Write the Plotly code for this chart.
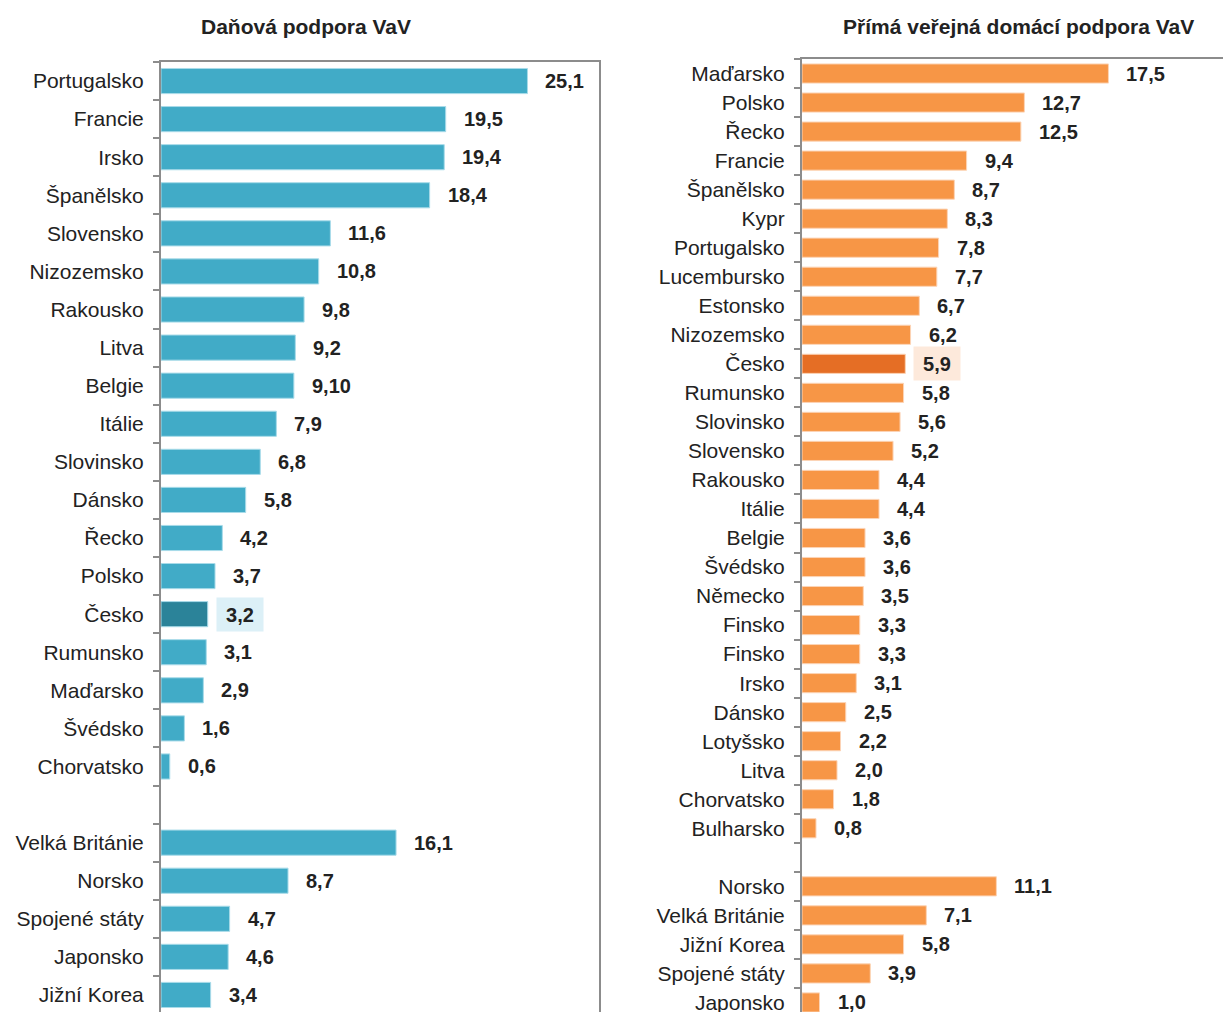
import plotly.graph_objects as go

# ---------------- data ----------------
tax_title = "Daňová podpora VaV"
tax_eu = ["Portugalsko", "Francie", "Irsko", "Španělsko", "Slovensko", "Nizozemsko",
          "Rakousko", "Litva", "Belgie", "Itálie", "Slovinsko", "Dánsko", "Řecko",
          "Polsko", "Česko", "Rumunsko", "Maďarsko", "Švédsko", "Chorvatsko"]
tax_eu_vals = [25.1, 19.5, 19.4, 18.4, 11.6, 10.8, 9.8, 9.2, 9.1, 7.9, 6.8, 5.8, 4.2,
               3.7, 3.2, 3.1, 2.9, 1.6, 0.6]
tax_eu_labels = ["25,1", "19,5", "19,4", "18,4", "11,6", "10,8", "9,8", "9,2", "9,10",
                 "7,9", "6,8", "5,8", "4,2", "3,7", "3,2", "3,1", "2,9", "1,6", "0,6"]
tax_other = ["Velká Británie", "Norsko", "Spojené státy", "Japonsko", "Jižní Korea"]
tax_other_vals = [16.1, 8.7, 4.7, 4.6, 3.4]
tax_other_labels = ["16,1", "8,7", "4,7", "4,6", "3,4"]

dir_title = "Přímá veřejná domácí podpora VaV"
dir_eu = ["Maďarsko", "Polsko", "Řecko", "Francie", "Španělsko", "Kypr", "Portugalsko",
          "Lucembursko", "Estonsko", "Nizozemsko", "Česko", "Rumunsko", "Slovinsko",
          "Slovensko", "Rakousko", "Itálie", "Belgie", "Švédsko", "Německo", "Finsko",
          "Finsko", "Irsko", "Dánsko", "Lotyšsko", "Litva", "Chorvatsko", "Bulharsko"]
dir_eu_vals = [17.5, 12.7, 12.5, 9.4, 8.7, 8.3, 7.8, 7.7, 6.7, 6.2, 5.9, 5.8, 5.6, 5.2,
               4.4, 4.4, 3.6, 3.6, 3.5, 3.3, 3.3, 3.1, 2.5, 2.2, 2.0, 1.8, 0.8]
dir_eu_labels = ["17,5", "12,7", "12,5", "9,4", "8,7", "8,3", "7,8", "7,7", "6,7", "6,2",
                 "5,9", "5,8", "5,6", "5,2", "4,4", "4,4", "3,6", "3,6", "3,5", "3,3",
                 "3,3", "3,1", "2,5", "2,2", "2,0", "1,8", "0,8"]
dir_other = ["Norsko", "Velká Británie", "Jižní Korea", "Spojené státy", "Japonsko"]
dir_other_vals = [11.1, 7.1, 5.8, 3.9, 1.0]
dir_other_labels = ["11,1", "7,1", "5,8", "3,9", "1,0"]

highlight = "Česko"

# ---------------- styles ----------------
W, H = 1231, 1012
OFF = 8  # page body margin
FONT = "Liberation Sans, Arial, sans-serif"
TXT = "#222222"
AXIS = "#8c8c8c"

panels = [
    dict(title=tax_title, eu=tax_eu, eu_vals=tax_eu_vals, eu_labels=tax_eu_labels,
         other=tax_other, other_vals=tax_other_vals, other_labels=tax_other_labels,
         color="#41abc7", hcolor="#2b8399", line="#a8dbe9", hbg="#dcf0f7",
         xpx=(161, 599), xrange=[0, 30], top=62, rowpx=38.08,
         mirror=True, title_x=306),
    dict(title=dir_title, eu=dir_eu, eu_vals=dir_eu_vals, eu_labels=dir_eu_labels,
         other=dir_other, other_vals=dir_other_vals, other_labels=dir_other_labels,
         color="#f79646", hcolor="#e56e25", line="#fcd4b6", hbg="#fde9db",
         xpx=(802, 1231), xrange=[0, 24.5], top=59, rowpx=29.03,
         mirror=False, title_x=1018),
]

fig = go.Figure()
annotations = []

for i, p in enumerate(panels, start=1):
    names = p["eu"] + p["other"]
    vals = p["eu_vals"] + p["other_vals"]
    labels = p["eu_labels"] + p["other_labels"]
    n_eu = len(p["eu"])
    pos = list(range(n_eu)) + [n_eu + 1 + k for k in range(len(p["other"]))]
    n_rows = pos[-1] + 1
    colors = [p["hcolor"] if nm == highlight else p["color"] for nm in names]

    xa = "x" if i == 1 else "x2"
    ya = "y" if i == 1 else "y2"
    fig.add_trace(go.Bar(
        x=vals, y=pos, orientation="h", width=0.66,
        marker=dict(color=colors, line=dict(color=p["line"], width=1)),
        xaxis=xa, yaxis=ya, showlegend=False, hoverinfo="skip",
    ))

    for v, y, lab, nm in zip(vals, pos, labels, names):
        if nm == highlight:
            annotations.append(dict(
                x=v, y=y, xref=xa, yref=ya, text=lab, showarrow=False,
                xanchor="left", yanchor="middle", xshift=8, yshift=0,
                width=46, height=33, align="center", borderpad=0,
                bgcolor=p["hbg"],
                font=dict(family=FONT, size=20, color=TXT, weight="bold")))
        else:
            annotations.append(dict(
                x=v, y=y, xref=xa, yref=ya, text=lab, showarrow=False,
                xanchor="left", yanchor="middle", xshift=17, borderpad=0,
                font=dict(family=FONT, size=20, color=TXT, weight="bold")))

    annotations.append(dict(
        x=(p["title_x"] - OFF) / W, y=1 - (26 - OFF) / H, xref="paper", yref="paper",
        text=p["title"], showarrow=False, xanchor="center", yanchor="middle",
        font=dict(family=FONT, size=21, color=TXT, weight="bold")))

    top = p["top"] - OFF
    plot_h = H - top
    visible_rows = plot_h / p["rowpx"]
    yrange = [visible_rows - 0.5, -0.5]
    xdom = [(p["xpx"][0] - OFF) / W, (p["xpx"][1] - OFF) / W]

    xkey = "xaxis" if i == 1 else "xaxis2"
    ykey = "yaxis" if i == 1 else "yaxis2"
    fig.update_layout(**{
        xkey: dict(domain=xdom, range=p["xrange"], anchor=ya, side="top",
                   showline=True, linecolor=AXIS, linewidth=2, showgrid=False,
                   zeroline=False, showticklabels=False, ticks="", fixedrange=True),
        ykey: dict(domain=[0, 1 - top / H], range=yrange, anchor=xa,
                   tickmode="array", tickvals=pos, ticktext=names,
                   ticks="", ticklabelstandoff=11,
                   showline=True, linecolor=AXIS, linewidth=2, mirror=p["mirror"],
                   showgrid=False, zeroline=False,
                   tickfont=dict(family=FONT, size=21, color=TXT),
                   minor=dict(tickmode="array",
                              tickvals=[k - 0.5 for k in range(n_rows + 1)],
                              ticks="outside", ticklen=6, tickwidth=2,
                              tickcolor=AXIS, showgrid=False),
                   fixedrange=True),
    })

fig.update_layout(
    width=W, height=H,
    margin=dict(l=0, r=0, t=0, b=0),
    plot_bgcolor="white", paper_bgcolor="white",
    bargap=0.34,
    annotations=annotations,
    font=dict(family=FONT, color=TXT),
)

fig.write_html("out.html")
